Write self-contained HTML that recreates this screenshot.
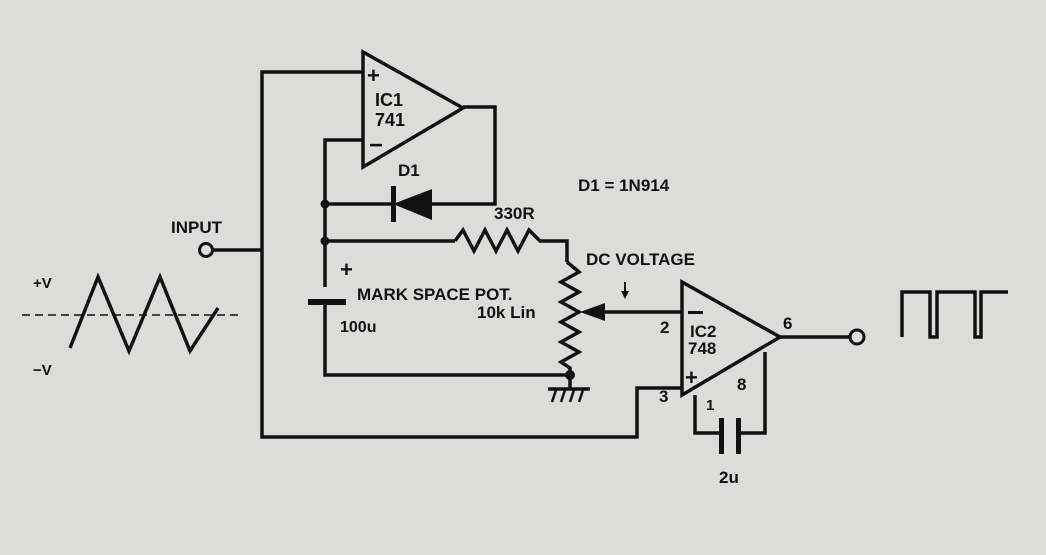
<!DOCTYPE html>
<html><head><style>
html,body{margin:0;padding:0;background:#dcdcda;}
svg{display:block}
text{font-family:"Liberation Sans",sans-serif;font-weight:bold;fill:#111;}
</style></head><body>
<svg width="1046" height="555" viewBox="0 0 1046 555">
<rect width="1046" height="555" fill="#dcdcda"/>
<g stroke="#111" stroke-width="3.5" fill="none" stroke-linejoin="miter">
<polygon points="363,52 363,167 463,108"/>
<polyline points="463,107 495,107 495,204 430,204"/>
<polyline points="363,140 325,140 325,287"/>
<line x1="325" y1="204" x2="393" y2="204"/>
<line x1="325" y1="241" x2="455" y2="241"/>
<polyline points="455,241 463,230 474,251 485,230 496,251 507,230 518,251 529,230 540,241 567,241 567,262"/>
<polyline points="567,262 579,272 561,282 579,292 561,302 579,312 561,322 579,332 561,342 579,352 561,362 570,368 570,375"/>
<polyline points="325,303 325,375 570,375"/>
<line x1="570" y1="375" x2="570" y2="389"/>
<line x1="548" y1="389" x2="590" y2="389"/>
<polyline points="363,72 262,72 262,437 637,437 637,388 682,388"/>
<line x1="212" y1="250" x2="262" y2="250"/>
<line x1="595" y1="312" x2="682" y2="312"/>
<line x1="625" y1="282" x2="625" y2="294" stroke-width="2"/>
<polygon points="682,282 682,395 780,337"/>
<line x1="780" y1="337" x2="850" y2="337"/>
<polyline points="765,352 765,433 740,433"/>
<polyline points="695,395 695,433 720,433"/>
<polyline points="902,337 902,292 930,292 930,337 937,337 937,292 975,292 975,337 981,337 981,292 1008,292"/>
<polyline points="70,348 98,277 129,351 160,277 190,351 218,308"/>
</g>
<line x1="22" y1="315" x2="238" y2="315" stroke="#111" stroke-width="1.5" stroke-dasharray="8,5"/>
<g fill="#111" stroke="none">
<polygon points="393,204 432,189 432,220"/>
<rect x="391" y="186" width="5" height="36"/>
<rect x="308" y="299" width="38" height="6"/>
<circle cx="325" cy="204" r="4.5"/>
<circle cx="325" cy="241" r="4.5"/>
<circle cx="570" cy="375" r="5"/>
<polygon points="580,312 605,303 605,321"/>
<polygon points="625,299 621,291 629,291"/>
<rect x="719" y="418" width="5" height="36"/>
<rect x="736" y="418" width="5" height="36"/>
<rect x="688" y="311" width="15" height="3"/>
</g>
<g stroke="#111" stroke-width="2.5">
<line x1="552" y1="402" x2="556" y2="390"/><line x1="561" y1="402" x2="565" y2="390"/>
<line x1="570" y1="402" x2="574" y2="390"/><line x1="579" y1="402" x2="583" y2="390"/>
</g>
<circle cx="206" cy="250" r="6.5" fill="none" stroke="#111" stroke-width="3"/>
<circle cx="857" cy="337" r="7" fill="none" stroke="#111" stroke-width="3"/>
<text x="367" y="83" font-size="22">+</text>
<text x="369" y="153" font-size="24">−</text>
<text x="375" y="106" font-size="18">IC1</text>
<text x="375" y="126" font-size="18">741</text>
<text x="398" y="176" font-size="17">D1</text>
<text x="578" y="191" font-size="17">D1 = 1N914</text>
<text x="494" y="219" font-size="17">330R</text>
<text x="340" y="277" font-size="22">+</text>
<text x="357" y="300" font-size="17">MARK SPACE POT.</text>
<text x="477" y="318" font-size="17">10k Lin</text>
<text x="340" y="332" font-size="16">100u</text>
<text x="171" y="233" font-size="17">INPUT</text>
<text x="586" y="265" font-size="17">DC VOLTAGE</text>
<text x="660" y="333" font-size="17">2</text>
<text x="690" y="337" font-size="17">IC2</text>
<text x="688" y="354" font-size="17">748</text>
<text x="685" y="385" font-size="22">+</text>
<text x="659" y="402" font-size="17">3</text>
<text x="783" y="329" font-size="17">6</text>
<text x="737" y="390" font-size="17">8</text>
<text x="706" y="410" font-size="15">1</text>
<text x="719" y="483" font-size="17">2u</text>
<text x="33" y="288" font-size="15" font-weight="normal">+V</text>
<text x="33" y="375" font-size="15" font-weight="normal">−V</text>
</svg>
</body></html>
